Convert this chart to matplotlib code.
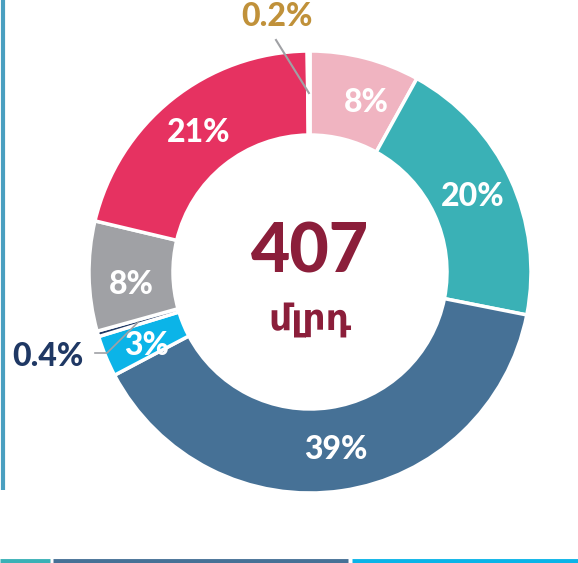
import matplotlib
matplotlib.use("Agg")
import matplotlib.pyplot as plt
import numpy as np

# Data
labels = ["8%", "20%", "39%", "3%", "0.4%", "8%", "21%", "0.2%"]
values = [8, 20, 39, 3, 0.4, 8, 21, 0.2]
colors = ["#F0B4C1", "#3AB1B6", "#467196", "#0BB4E8", "#1F3864", "#A0A1A5", "#E63261", "#FFFFFF"]
center_value = "407"
center_unit = "մլրդ"

W, H = 578, 563
fig = plt.figure(figsize=(W / 100, H / 100), dpi=100)
ax = fig.add_axes([0, 0, 1, 1])
ax.set_xlim(0, W)
ax.set_ylim(0, H)
ax.set_aspect("equal")
ax.axis("off")

cx, cy = 310, H - 272
R = 221
width = R - 137

wedges, _ = ax.pie(values, colors=colors, startangle=90, counterclock=False,
                   center=(cx, cy), radius=R, normalize=True,
                   wedgeprops=dict(width=width, edgecolor="white", linewidth=2.5))
ax.set_xlim(0, W)
ax.set_ylim(0, H)

fam = ["Lato", "DejaVu Sans"]
FW = 900
rmid = R - width / 2
small = {4: ("#1F3864", (48, H - 356)), 7: ("#C0913A", (277, H - 17))}
nudge = {0: 4, 3: -2, 5: -3}
for i, w in enumerate(wedges):
    ang = np.deg2rad((w.theta1 + w.theta2) / 2 - nudge.get(i, 0))
    px, py = cx + rmid * np.cos(ang), cy + rmid * np.sin(ang)
    if i in small:
        col, (tx, ty) = small[i]
        ax.text(tx, ty, labels[i], color=col, fontsize=23, fontweight=FW,
                family=fam, ha="center", va="center")
        if i == 4:
            ax.plot([95, 107, px], [H - 353, H - 353, py], color="#A0A1A5", lw=1.2)
        else:
            ax.plot([276, px], [H - 40, py], color="#A0A1A5", lw=1.5)
    else:
        ax.text(px, py, labels[i], color="white", fontsize=23, fontweight=FW,
                family=fam, ha="center", va="center")

ax.text(cx, H - 253, center_value, color="#8B1E3A", fontsize=49, fontweight=FW,
        family=fam, ha="center", va="center")
ax.text(cx, H - 320, center_unit, color="#8B1E3A", fontsize=26, fontweight="bold",
        family=fam, ha="center", va="center")

# decorative frame lines
ax.plot([3, 3], [H, H - 490], color="#4A9FC0", lw=3, solid_capstyle="butt")
ax.plot([0, 50], [H - 561, H - 561], color="#3AB1B6", lw=3.5, solid_capstyle="butt")
ax.plot([53, 348], [H - 561, H - 561], color="#467196", lw=3.5, solid_capstyle="butt")
ax.plot([352, 578], [H - 561, H - 561], color="#0BB4E8", lw=3.5, solid_capstyle="butt")

fig.savefig("out.png", dpi=100)
